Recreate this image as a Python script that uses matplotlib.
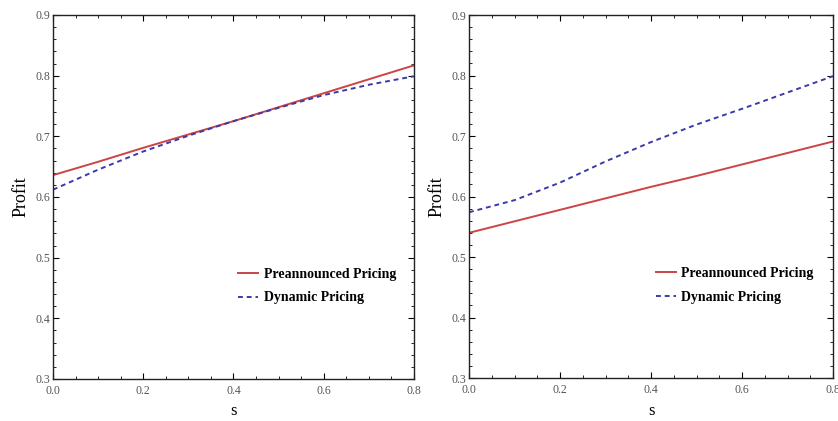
import numpy as np
import matplotlib.pyplot as plt
from matplotlib.ticker import MultipleLocator

# ---- Data ----
s = [0.0, 0.1, 0.2, 0.3, 0.4, 0.5, 0.6, 0.7, 0.8]

left_pre = [0.636, 0.658, 0.681, 0.703, 0.725, 0.748, 0.771, 0.794, 0.817]
left_dyn = [0.612, 0.645, 0.675, 0.701, 0.725, 0.747, 0.768, 0.785, 0.799]

right_pre = [0.540, 0.559, 0.578, 0.597, 0.616, 0.634, 0.653, 0.672, 0.691]
right_dyn = [0.574, 0.594, 0.623, 0.658, 0.690, 0.719, 0.745, 0.772, 0.799]

red = "#cc4444"
blue = "#3a3aa8"

plt.rcParams["font.family"] = ["Liberation Serif", "DejaVu Serif"]

fig = plt.figure(figsize=(8.38, 4.21), dpi=100)
ax_l = fig.add_axes([0.0632, 0.0998, 0.4308, 0.8646])
ax_r = fig.add_axes([0.5597, 0.1021, 0.4344, 0.8622])


def style_axes(ax):
    ax.set_xlim(0, 0.8)
    ax.set_ylim(0.3, 0.9)
    ax.xaxis.set_major_locator(MultipleLocator(0.2))
    ax.xaxis.set_minor_locator(MultipleLocator(0.05))
    ax.yaxis.set_major_locator(MultipleLocator(0.1))
    ax.yaxis.set_minor_locator(MultipleLocator(0.02))
    ax.tick_params(which="both", direction="in", top=True, right=True,
                   labelsize=8.5, labelcolor="#555555", pad=2)
    ax.tick_params(axis="x", pad=4)
    ax.tick_params(which="major", length=4, width=0.8)
    ax.tick_params(which="minor", length=2, width=0.6)
    ax.xaxis.set_major_formatter(lambda v, p: f"{v:.1f}")
    ax.yaxis.set_major_formatter(lambda v, p: f"{v:.1f}")
    for sp in ax.spines.values():
        sp.set_linewidth(1.0)
        sp.set_color("#222222")
    ax.set_xlabel("s", fontsize=12, labelpad=5)
    ax.set_ylabel("Profit", fontsize=13, labelpad=4)


for ax, pre, dyn in [(ax_l, left_pre, left_dyn), (ax_r, right_pre, right_dyn)]:
    ax.plot(s, pre, color=red, linewidth=1.4, label="Preannounced Pricing")
    ax.plot(s, dyn, color=blue, linewidth=1.4, linestyle=(0, (2.5, 2)),
            label="Dynamic Pricing")
    style_axes(ax)
    ax.legend(loc="upper left", bbox_to_anchor=(0.513, 0.305), frameon=False,
              borderpad=0, borderaxespad=0,
              prop={"weight": "bold", "size": 10}, handlelength=1.45,
              handletextpad=0.4, labelspacing=0.75)

fig.savefig("out.png", dpi=100)
